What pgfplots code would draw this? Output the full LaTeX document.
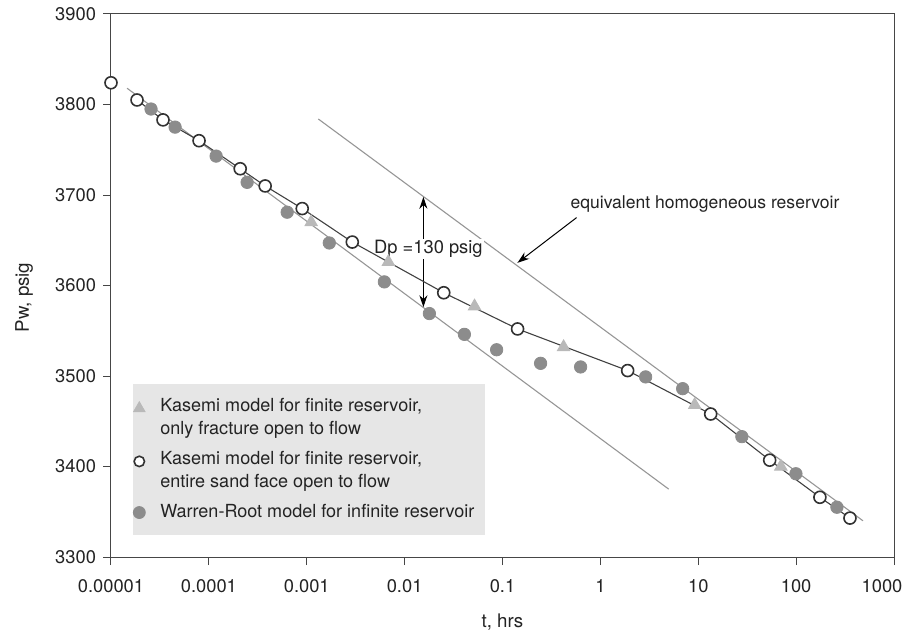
\documentclass[border=0pt]{standalone}
\usepackage{pgfplots}
\pgfplotsset{compat=1.18}
\usetikzlibrary{arrows.meta}
\usepackage{fontspec}
\setmainfont{TeX Gyre Heros}

\definecolor{txt}{RGB}{35,35,35}
\definecolor{axiscol}{RGB}{70,70,70}
\definecolor{linegray}{RGB}{150,150,150}
\definecolor{curvecol}{RGB}{65,65,65}
\definecolor{opencol}{RGB}{50,50,50}
\definecolor{fillgray}{RGB}{140,140,140}
\definecolor{trigray}{RGB}{185,185,185}
\definecolor{legendgray}{RGB}{230,230,230}

\begin{document}
\begin{tikzpicture}[font=\fontsize{8.8}{10.5}\selectfont, text=txt]
\begin{axis}[
    scale only axis,
    width=391.5bp, height=271.5bp,
    xmode=log,
    xmin=1e-5, xmax=1000,
    ymin=3300, ymax=3900,
    xtick={1e-5,1e-4,1e-3,1e-2,1e-1,1,10,100,1000},
    xticklabels={0.00001,0.0001,0.001,0.01,0.1,1,10,100,\hspace*{-12bp}1000},
    xminorticks=false,
    ytick={3300,3400,3500,3600,3700,3800,3900},
    yticklabels={3300,3400,3500,3600,3700,3800,3900},
    tick align=outside, xtick pos=bottom, ytick pos=left,
    major tick length=4bp,
    tick style={axiscol, line width=0.5bp},
    axis line style={axiscol, line width=0.5bp},
    ticklabel style={font=\fontsize{9.2}{11}\selectfont, text=txt},
    xticklabel style={yshift=-3.5bp},
    /pgf/number format/assume math mode=true,
    xlabel={t, hrs}, ylabel={Pw, psig},
    every axis x label/.style={at={(axis description cs:0.5,0)}, anchor=center, yshift=-32.5bp, font=\fontsize{9.4}{11}\selectfont},
    every axis y label/.style={at={(axis description cs:0,0.5)}, rotate=90, anchor=center, xshift=-6bp, yshift=43.5bp, font=\fontsize{9.4}{11}\selectfont},
    legend cell align=left,
    legend style={at={(0.028,0.0405)}, anchor=south west, fill=legendgray, draw=none,
        font=\fontsize{9.05}{11.5}\selectfont, row sep=3bp, column sep=5.5bp,
        inner xsep=0pt, inner ysep=5bp, cells={align=left}},
    clip=false,
]
% semilog straight lines
\addplot[linegray, line width=0.55bp, forget plot] coordinates {(1.459e-5,3818) (4.99,3375)};
\addplot[linegray, line width=0.55bp, forget plot] coordinates {(1.312e-3,3784) (482,3340)};

% annotations
\draw[{Stealth[length=6bp,width=4bp]}-{Stealth[length=6bp,width=4bp]}, line width=0.5bp, black]
    (axis cs:0.01556,3698) -- (axis cs:0.01556,3576);
\node[fill=white, inner sep=0.6bp, font=\fontsize{9.2}{11}\selectfont] at (axis cs:0.0175,3640) {Dp =130 psig};
\node[anchor=west] at (axis cs:0.42,3690) {equivalent homogeneous reservoir};
\draw[-{Stealth[length=6bp,width=4bp]}, line width=0.5bp, black]
    (axis cs:0.571,3675) -- (axis cs:0.142,3625);

% Warren-Root model for infinite reservoir
\addplot[only marks, mark=*, mark size=3.1bp, mark options={draw=fillgray, fill=fillgray}, forget plot] coordinates {
    (2.564e-5,3795) (4.52e-5,3775) (1.186e-4,3743) (2.46e-4,3714) (6.31e-4,3681)
    (1.70e-3,3647) (6.21e-3,3604) (0.0179,3569) (0.0408,3546) (0.0871,3529)
    (0.245,3514) (0.628,3510) (2.90,3499) (6.93,3486) (27.9,3433) (99.5,3392) (261,3355)
};
% Kasemi, only fracture open to flow
\addplot[only marks, mark=triangle*, mark size=3.6bp, mark options={draw=trigray, fill=trigray}, forget plot] coordinates {
    (1.11e-3,3670) (6.82e-3,3626) (0.0518,3577) (0.421,3532) (9.20,3468) (69.8,3400)
};
% Kasemi, entire sand face open to flow
\addplot[curvecol, line width=0.55bp, forget plot] coordinates {
    (1.845e-5,3805) (3.40e-5,3783) (7.94e-5,3760) (2.09e-4,3729) (3.76e-4,3710)
    (8.99e-4,3685) (2.92e-3,3648) (0.0251,3592) (0.1426,3552) (1.90,3506)
    (13.4,3458) (53.7,3407) (175,3366) (355,3343)
};
\addplot[only marks, mark=*, mark size=3bp, mark options={draw=opencol, fill=white, line width=0.8bp}, forget plot] coordinates {
    (1e-5,3824) (1.845e-5,3805) (3.40e-5,3783) (7.94e-5,3760) (2.09e-4,3729) (3.76e-4,3710)
    (8.99e-4,3685) (2.92e-3,3648) (0.0251,3592) (0.1426,3552) (1.90,3506)
    (13.4,3458) (53.7,3407) (175,3366) (355,3343)
};

\addlegendimage{only marks, mark=triangle*, mark size=3.3bp, mark options={draw=trigray, fill=trigray, yshift=4.75bp}}
\addlegendentry{Kasemi model for finite reservoir,\\only fracture open to flow}
\addlegendimage{only marks, mark=*, mark size=2.6bp, mark options={draw=opencol, fill=white, line width=0.8bp, yshift=4.75bp}}
\addlegendentry{Kasemi model for finite reservoir,\\entire sand face open to flow}
\addlegendimage{only marks, mark=*, mark size=3bp, mark options={draw=fillgray, fill=fillgray}}
\addlegendentry{\rule[-4.5bp]{0pt}{11.1bp}Warren-Root model for infinite reservoir\hspace*{3.5bp}}
\end{axis}
\pgfresetboundingbox
\path (current axis.south west) ++(-55.5bp,-39.5bp) rectangle ++(454bp,318bp);
\end{tikzpicture}
\end{document}
